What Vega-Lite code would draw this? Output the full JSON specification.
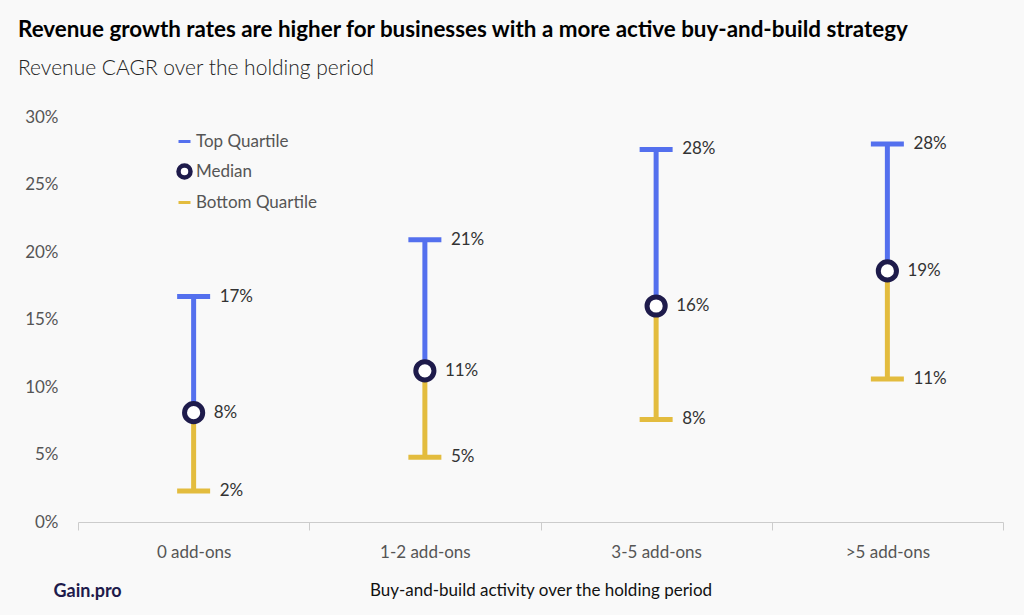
{
  "$schema": "https://vega.github.io/schema/vega-lite/v6.json",
  "width": 925,
  "height": 405,
  "autosize": {"type": "none"},
  "padding": {"left": 78, "top": 117, "right": 21, "bottom": 93},
  "background": "#F9F9F9",
  "config": {
    "font": "Lato",
    "view": {"stroke": null},
    "axis": {"labelFont": "Lato", "titleFont": "Lato"}
  },
  "title": {
    "text": "Revenue growth rates are higher for businesses with a more active buy-and-build strategy",
    "subtitle": "Revenue CAGR over the holding period",
    "anchor": "start",
    "frame": "group",
    "dx": -60,
    "offset": 29,
    "fontSize": 22.4,
    "fontWeight": "bold",
    "color": "#000000",
    "subtitleFontSize": 21,
    "subtitleColor": "#222222",
    "subtitleFontWeight": 300,
    "subtitlePadding": 17
  },
  "data": {
    "values": [
      {"cat": "0 add-ons", "top": 0.167, "median": 0.081, "bottom": 0.023},
      {"cat": "1-2 add-ons", "top": 0.209, "median": 0.112, "bottom": 0.048},
      {"cat": "3-5 add-ons", "top": 0.276, "median": 0.160, "bottom": 0.076},
      {"cat": ">5 add-ons", "top": 0.280, "median": 0.186, "bottom": 0.106}
    ]
  },
  "encoding": {
    "x": {
      "field": "cat",
      "type": "nominal",
      "sort": null,
      "scale": {"paddingInner": 0, "paddingOuter": 0},
      "axis": {
        "title": "Buy-and-build activity over the holding period",
        "titleFontSize": 17,
        "titleFontWeight": "normal",
        "titleColor": "#111111",
        "titlePadding": 22,
        "labelFontSize": 17,
        "labelColor": "#555555",
        "labelPadding": 14,
        "labelAngle": 0,
        "tickBand": "extent",
        "tickColor": "#CCCCCC",
        "tickSize": 8,
        "domainColor": "#CCCCCC"
      }
    }
  },
  "layer": [
    {
      "mark": {"type": "rule", "strokeWidth": 5},
      "encoding": {
        "y": {
          "field": "median",
          "type": "quantitative",
          "scale": {"domain": [0, 0.3], "nice": false},
          "axis": {
            "title": "Gain.pro",
            "titleAngle": 0,
            "titleX": -25,
            "titleY": 474,
            "titleAlign": "left",
            "titleBaseline": "middle",
            "titleFontSize": 18,
            "titleFontWeight": "bold",
            "titleColor": "#1E1B4B",
            "values": [0, 0.05, 0.1, 0.15, 0.2, 0.25, 0.3],
            "format": ".0%",
            "grid": false,
            "domain": false,
            "ticks": false,
            "labelFontSize": 17,
            "labelColor": "#555555",
            "labelPadding": 20
          }
        },
        "y2": {"field": "top"},
        "stroke": {
          "datum": "Top Quartile",
          "type": "nominal",
          "scale": {
            "domain": ["Top Quartile", "Median", "Bottom Quartile"],
            "range": ["#5470EE", "#1E1B4B", "#E3BC3E"]
          },
          "legend": {
            "title": null,
            "orient": "none",
            "legendX": 98,
            "legendY": 16,
            "labelFontSize": 17,
            "labelColor": "#555555",
            "labelOffset": 3,
            "rowPadding": 6,
            "symbolSize": 144,
            "encode": {
              "symbols": {
                "update": {
                  "shape": {"signal": "datum.value === 'Median' ? 'circle' : 'M-1,0H1'"},
                  "fill": {"signal": "datum.value === 'Median' ? '#FFFFFF' : 'transparent'"},
                  "stroke": {"signal": "datum.value === 'Top Quartile' ? '#5470EE' : datum.value === 'Median' ? '#1E1B4B' : '#E3BC3E'"},
                  "strokeWidth": {"signal": "datum.value === 'Median' ? 4.5 : 3"},
                  "opacity": {"value": 1}
                }
              }
            }
          }
        }
      }
    },
    {
      "mark": {"type": "rule", "strokeWidth": 5},
      "encoding": {
        "y": {"field": "bottom", "type": "quantitative"},
        "y2": {"field": "median"},
        "stroke": {"datum": "Bottom Quartile", "type": "nominal"}
      }
    },
    {
      "mark": {"type": "tick", "color": "#5470EE", "size": 33, "thickness": 5, "opacity": 1},
      "encoding": {"y": {"field": "top", "type": "quantitative"}}
    },
    {
      "mark": {"type": "tick", "color": "#E3BC3E", "size": 33, "thickness": 5, "opacity": 1},
      "encoding": {"y": {"field": "bottom", "type": "quantitative"}}
    },
    {
      "mark": {"type": "point", "filled": false, "fill": "#FFFFFF", "size": 330, "strokeWidth": 5, "opacity": 1, "fillOpacity": 1},
      "encoding": {
        "y": {"field": "median", "type": "quantitative"},
        "stroke": {"datum": "Median", "type": "nominal"}
      }
    },
    {
      "mark": {"type": "text", "align": "left", "baseline": "middle", "dx": 26, "fontSize": 17, "color": "#333333"},
      "encoding": {
        "y": {"field": "top", "type": "quantitative"},
        "text": {"field": "top", "type": "quantitative", "format": ".0%"}
      }
    },
    {
      "mark": {"type": "text", "align": "left", "baseline": "middle", "dx": 20, "fontSize": 17, "color": "#333333"},
      "encoding": {
        "y": {"field": "median", "type": "quantitative"},
        "text": {"field": "median", "type": "quantitative", "format": ".0%"}
      }
    },
    {
      "mark": {"type": "text", "align": "left", "baseline": "middle", "dx": 26, "fontSize": 17, "color": "#333333"},
      "encoding": {
        "y": {"field": "bottom", "type": "quantitative"},
        "text": {"field": "bottom", "type": "quantitative", "format": ".0%"}
      }
    }
  ]
}
